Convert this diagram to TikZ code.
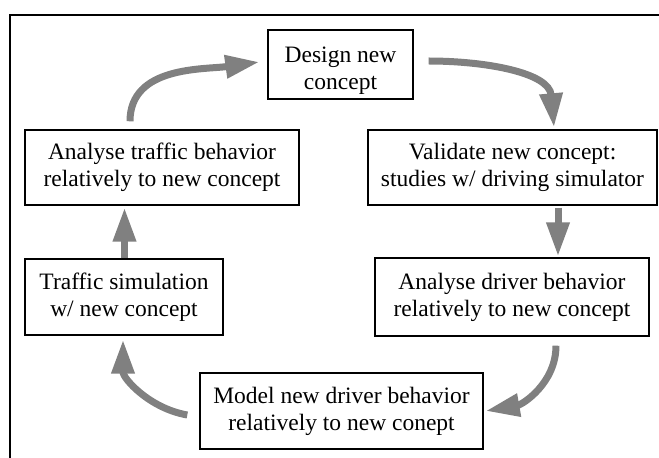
\documentclass[tikz,border=0pt]{standalone}
\usepackage{fontspec}
\setmainfont{Liberation Serif}
\usepackage{tikz}
\usetikzlibrary{arrows.meta}
\usetikzlibrary{calc}
\def\largeur{659}
\def\hauteur{458}

\begin{document}
\begin{tikzpicture}[x=1pt, y=1pt,
	stage/.style={draw, line width=1.4pt, align=center, inner sep=0pt, font=\fontsize{23.5}{27}\selectfont},
	flow/.style={draw=gray, line width=7pt, -{Triangle[length=34pt, width=22pt]}}]
	\useasboundingbox (0,0) rectangle (\largeur,\hauteur);
	%\draw[step=10pt, line width=0.1pt, black!20!white] (0,0) grid (\largeur,\hauteur);
	\draw[line width=2pt] (10,0) -- (10,443) -- (\largeur,443);
	% les etapes
	\node[stage, minimum width=145pt, minimum height=69pt, text height=60pt, text depth=9pt] (design) at (340.5,393.5) {Design new\\concept};
	\node[stage, minimum width=274pt, minimum height=75pt] (anatraffic) at (162,290.5) {Analyse traffic behavior\\relatively to new concept};
	\node[stage, minimum width=289pt, minimum height=75pt] (validate) at (512.5,290.5) {Validate new concept:\\studies w/ driving simulator};
	\node[stage, minimum width=198pt, minimum height=76pt] (trafsim) at (124,161) {Traffic simulation\\w/ new concept};
	\node[stage, minimum width=274pt, minimum height=78pt] (anadriver) at (512,161) {Analyse driver behavior\\relatively to new concept};
	\node[stage, minimum width=283pt, minimum height=76pt] (model) at (341.5,47) {Model new driver behavior\\relatively to new conept};
	% les fleches
	\draw[flow] ($(anatraffic.north)+(-32,8)$) to[out=90, in=188] ($(design.west)+(-8,2.5)$);
	\draw[flow] ($(design.east)+(15,3.5)$) to[out=0, in=95] ($(validate.north)+(41.5,2)$);
	\draw[flow] ($(validate.south)+(45.5,-2)$) -- ($(anadriver.north)+(46,1)$);
	\draw[flow] ($(anadriver.south)+(44,-9)$) to[out=-90, in=10] ($(model.east)+(2,0)$);
	\draw[flow] ($(model.west)+(-12,-4)$) to[out=170, in=-90] ($(trafsim.south)+(-1,-4)$);
	\draw[flow] ($(trafsim.north)+(0.5,0)$) -- ($(anatraffic.south)+(-37.5,-2)$);
\end{tikzpicture}
\end{document}
